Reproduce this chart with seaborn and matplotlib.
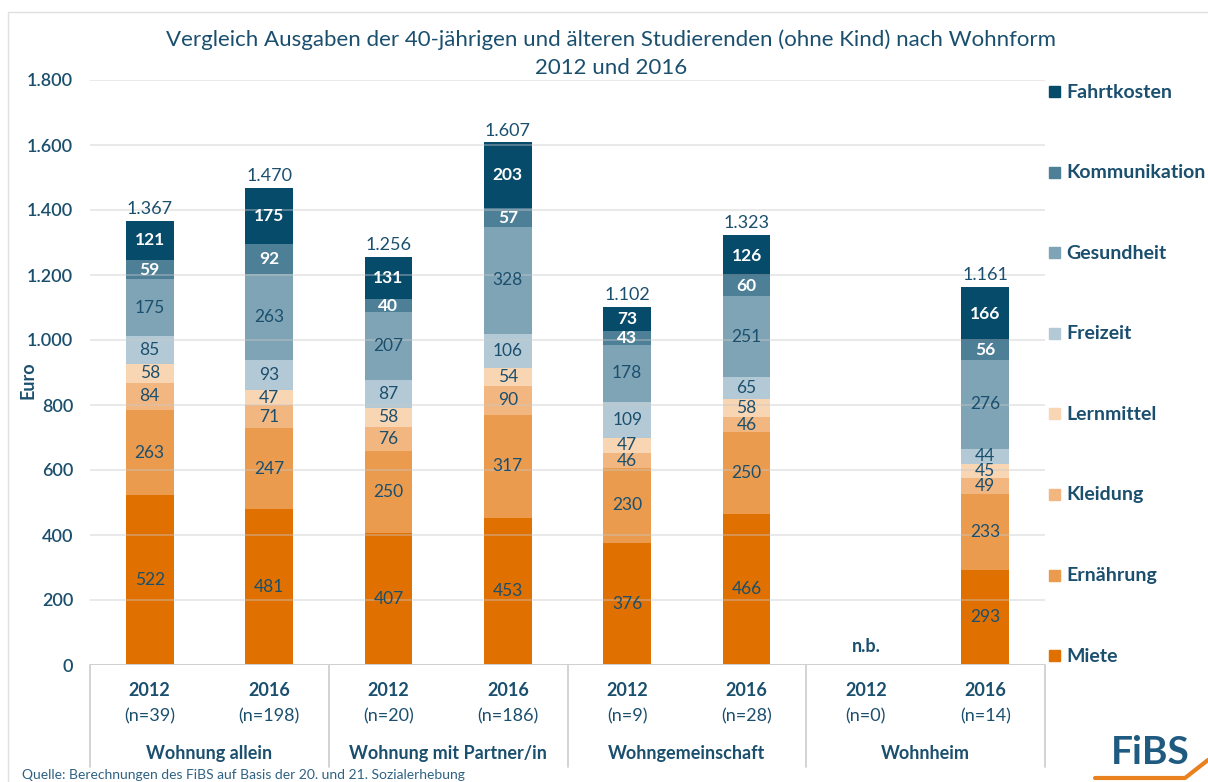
"""
    Vergleich Ausgaben nach Wohnform (gestapelte Balken)
"""
import pandas as pd
import seaborn as sns
import matplotlib.pyplot as plt
import matplotlib.transforms as mtransforms
from matplotlib.patches import Rectangle
from matplotlib.lines import Line2D

# Daten
balken = ["WA2012", "WA2016", "WP2012", "WP2016", "WG2012", "WG2016", "WH2012", "WH2016"]
jahre = ["2012", "2016", "2012", "2016", "2012", "2016", "2012", "2016"]
stichprobe = ["(n=39)", "(n=198)", "(n=20)", "(n=186)", "(n=9)", "(n=28)", "(n=0)", "(n=14)"]
gruppen = ["Wohnung allein", "Wohnung mit Partner/in", "Wohngemeinschaft", "Wohnheim"]

kategorien = ["Miete", "Ernährung", "Kleidung", "Lernmittel",
              "Freizeit", "Gesundheit", "Kommunikation", "Fahrtkosten"]
miete = [522, 481, 407, 453, 376, 466, None, 293]
ernaehrung = [263, 247, 250, 317, 230, 250, None, 233]
kleidung = [84, 71, 76, 90, 46, 46, None, 49]
lernmittel = [58, 47, 58, 54, 47, 58, None, 45]
freizeit = [85, 93, 87, 106, 109, 65, None, 44]
gesundheit = [175, 263, 207, 328, 178, 251, None, 276]
kommunikation = [59, 92, 40, 57, 43, 60, None, 56]
fahrtkosten = [121, 175, 131, 203, 73, 126, None, 166]
summen = [1367, 1470, 1256, 1607, 1102, 1323, None, 1161]

farben = {"Miete": "#E07000", "Ernährung": "#EA9B4E", "Kleidung": "#F2B781",
          "Lernmittel": "#F8D5B3", "Freizeit": "#B3CAD6", "Gesundheit": "#7FA4B6",
          "Kommunikation": "#4D7F97", "Fahrtkosten": "#074B6B"}
textfarbe = "#1B4F6E"

df = pd.DataFrame({"Miete": miete, "Ernährung": ernaehrung, "Kleidung": kleidung,
                   "Lernmittel": lernmittel, "Freizeit": freizeit, "Gesundheit": gesundheit,
                   "Kommunikation": kommunikation, "Fahrtkosten": fahrtkosten},
                  index=balken).fillna(0)
kumuliert = df.cumsum(axis=1)


def punkt(zahl):
    return f"{int(zahl):,}".replace(",", ".")


sns.set_style("white")
plt.rcParams["font.family"] = ["Lato", "DejaVu Sans"]

fig = plt.figure(figsize=(12.08, 7.82), dpi=100)
ax = fig.add_axes([90 / 1208, 1 - 665 / 782, (1045 - 90) / 1208, 585 / 782])

# gestapelte Balken: von oben nach unten überlagert
for kat in reversed(kategorien):
    sns.barplot(x=balken, y=kumuliert[kat].values, order=balken, color=farben[kat],
                saturation=1, width=0.4, linewidth=0, ax=ax, zorder=2)

# Gitterlinien
for y in range(0, 1801, 200):
    ax.axhline(y, color="#C8C8C8", lw=1.4, alpha=0.4, zorder=3)
ax.axhline(0, color="#D0D0D0", lw=1.4, zorder=4)

# Beschriftungen der Segmente
for i, b in enumerate(balken):
    unten = 0
    for kat in kategorien:
        wert = df.loc[b, kat]
        if wert > 0:
            weiss = kat in ("Kommunikation", "Fahrtkosten")
            ax.text(i, unten + wert / 2, str(int(wert)), ha="center", va="center",
                    fontsize=12.5, color="white" if weiss else textfarbe,
                    fontweight="bold" if weiss else "normal", zorder=6)
        unten += wert
    if summen[i] is not None:
        ax.text(i, unten + 12, punkt(summen[i]), ha="center", va="bottom",
                fontsize=13, color=textfarbe, zorder=6)
    else:
        ax.text(i, 30, "n.b.", ha="center", va="bottom", fontsize=13,
                color=textfarbe, fontweight="bold", zorder=6)

ax.set_xlim(-0.5, 7.5)
ax.set_ylim(0, 1800)
ax.set_yticks(range(0, 1801, 200))
ax.set_yticklabels([punkt(v) for v in range(0, 1801, 200)], fontsize=13,
                   color=textfarbe, fontweight="semibold")
ax.set_xticks([])
ax.set_xlabel("")
ax.tick_params(axis="y", length=0, pad=12)
sns.despine(ax=ax, left=True, bottom=True)

# Kategorientabelle unter der Achse
trans = mtransforms.blended_transform_factory(ax.transData, ax.transAxes)
for xb in [-0.5, 1.5, 3.5, 5.5, 7.5]:
    ax.add_line(Line2D([xb, xb], [0, -0.175], transform=trans, clip_on=False,
                       color="#D0D0D0", lw=1.3))
for i in range(len(balken)):
    ax.text(i, -0.044, jahre[i], transform=trans, ha="center", va="center",
            fontsize=13, color=textfarbe, fontweight="bold")
    ax.text(i, -0.087, stichprobe[i], transform=trans, ha="center", va="center",
            fontsize=13, color=textfarbe)
for g, name in enumerate(gruppen):
    ax.text(2 * g + 0.5, -0.152, name, transform=trans, ha="center", va="center",
            fontsize=13, color=textfarbe, fontweight="bold")

# Titel und Achsenbeschriftung
fig.text(611 / 1208, 1 - 40 / 782, "Vergleich Ausgaben der 40-jährigen und älteren "
         "Studierenden (ohne Kind) nach Wohnform", ha="center", va="center",
         fontsize=16, color=textfarbe)
fig.text(611 / 1208, 1 - 68 / 782, "2012 und 2016", ha="center", va="center",
         fontsize=16, color=textfarbe)
fig.text(28 / 1208, 1 - 380 / 782, "Euro", rotation=90, ha="center", va="center",
         fontsize=13, color=textfarbe, fontweight="bold")

# Legende
for k, kat in enumerate(reversed(kategorien)):
    ypx = 92 + k * 80.6
    fig.patches.append(Rectangle((1049 / 1208, 1 - (ypx + 5) / 782), 11 / 1208, 11 / 782,
                                 transform=fig.transFigure, color=farben[kat]))
    fig.text(1066 / 1208, 1 - ypx / 782, kat, ha="left", va="center", fontsize=14,
             color=textfarbe, fontweight="bold")

# Quelle und Logo
fig.text(22 / 1208, 1 - 775 / 782, "Quelle: Berechnungen des FiBS auf Basis der 20. und 21. Sozialerhebung",
         ha="left", va="center", fontsize=10, color="#2E6282")
fig.text(1150 / 1208, 1 - 752 / 782, "FiBS", ha="center", va="center", fontsize=28,
         color="#1F5A80", fontweight="bold")
fig.add_artist(Line2D([1095 / 1208, 1185 / 1208, 1208 / 1208],
                      [1 - 778 / 782, 1 - 778 / 782, 1 - 760 / 782],
                      transform=fig.transFigure, color="#E9821E", lw=3))

# Rahmen
fig.add_artist(Line2D([8 / 1208, 8 / 1208, 1.0], [0.0, 1 - 12 / 782, 1 - 12 / 782],
                      transform=fig.transFigure, color="#E0E0E0", lw=1))

fig.savefig("out.png", dpi=100)
